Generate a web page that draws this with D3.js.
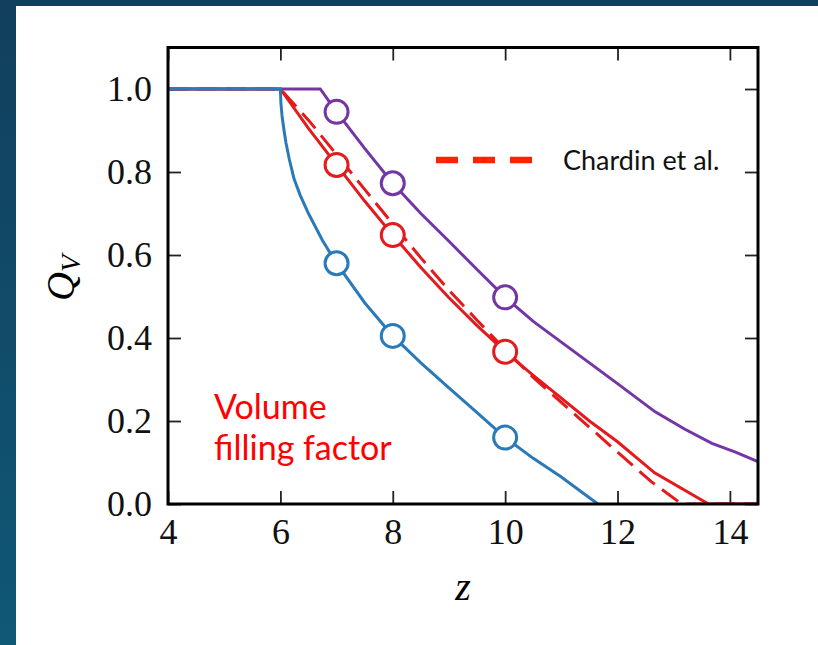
<!DOCTYPE html>
<html>
<head>
<meta charset="utf-8">
<script src="https://cdn.jsdelivr.net/npm/d3@7"></script>
<style>
  html, body { margin: 0; padding: 0; }
  body { width: 818px; height: 645px; overflow: hidden; }
</style>
</head>
<body>
<div id="container"></div>
<script>
// values
const xTicks = [4, 6, 8, 10, 12, 14];
const yTicks = [0, 0.2, 0.4, 0.6, 0.8, 1.0];

const purpleZ = [4, 6.71, 7, 7.5, 8, 8.5, 9, 9.5, 10, 10.5, 11, 11.5, 12, 12.67, 13.2, 13.68, 14.1, 14.5];
const purpleQ = [1, 1, 0.945, 0.857, 0.773, 0.7, 0.633, 0.565, 0.498, 0.44, 0.39, 0.34, 0.29, 0.222, 0.18, 0.146, 0.125, 0.102];

const redZ = [4, 6, 6.5, 7, 7.5, 8, 8.5, 9, 9.5, 10, 10.5, 11, 11.5, 12, 12.66, 13.62, 14.5];
const redQ = [1, 1, 0.905, 0.817, 0.73, 0.648, 0.57, 0.497, 0.43, 0.367, 0.31, 0.255, 0.2, 0.15, 0.075, 0, 0];

const chardinZ = [4, 6, 6.5, 7, 7.5, 8, 8.5, 9, 9.5, 10, 10.5, 11, 11.5, 12, 12.6, 13.14, 14.5];
const chardinQ = [1, 1, 0.925, 0.842, 0.758, 0.675, 0.593, 0.515, 0.443, 0.372, 0.305, 0.245, 0.185, 0.125, 0.054, 0, 0];

const blueZ = [4, 6, 6.01, 6.03, 6.06, 6.1, 6.16, 6.24, 6.35, 6.5, 6.75, 7, 7.5, 8, 8.5, 9, 9.5, 10, 10.5, 11, 11.3, 11.65];
const blueQ = [1, 1, 0.965, 0.935, 0.905, 0.87, 0.83, 0.785, 0.745, 0.70, 0.635, 0.58, 0.485, 0.405, 0.34, 0.28, 0.22, 0.16, 0.11, 0.065, 0.035, 0];

// open circle markers
const markerZ = [7, 8, 10];
const purpleMarks = [0.945, 0.773, 0.498];
const redMarks = [0.817, 0.648, 0.367];
const blueMarks = [0.58, 0.405, 0.16];

const width = 818;
const height = 645;

const plot = { left: 168, right: 758, top: 47.5, bottom: 504 };

const svg = d3.select('#container').append('svg')
    .attr('width', width)
    .attr('height', height);

// dark slide background
const defs = svg.append('defs');
const grad = defs.append('linearGradient')
    .attr('id', 'bg')
    .attr('x1', 0).attr('y1', 0).attr('x2', 0).attr('y2', 1);
grad.append('stop').attr('offset', '0%').attr('stop-color', '#113f5d');
grad.append('stop').attr('offset', '100%').attr('stop-color', '#0f5876');

svg.append('rect')
    .attr('width', width).attr('height', height)
    .attr('fill', 'url(#bg)');

svg.append('rect')
    .attr('x', 16).attr('y', 6)
    .attr('width', width - 16).attr('height', height - 6)
    .attr('fill', '#fff');

defs.append('clipPath').attr('id', 'clip')
    .append('rect')
    .attr('x', plot.left).attr('y', plot.top)
    .attr('width', plot.right - plot.left)
    .attr('height', plot.bottom - plot.top);

//Scales
const xScale = d3.scaleLinear().domain([4, 14.5]).range([plot.left, plot.right]);
const yScale = d3.scaleLinear().domain([0, 1.1]).range([plot.bottom, plot.top]);

const tickFont = '"Liberation Serif", "DejaVu Serif", serif';

//Axes, ticks pointing inward
const xAxis = svg.append('g')
    .attr('transform', 'translate(0,' + plot.bottom + ')')
    .call(d3.axisBottom(xScale).tickValues(xTicks).tickSizeInner(-13).tickSizeOuter(0).tickPadding(14).tickFormat(d3.format('d')));

const xTop = svg.append('g')
    .attr('transform', 'translate(0,' + plot.top + ')')
    .call(d3.axisTop(xScale).tickValues(xTicks).tickSizeInner(-13).tickSizeOuter(0).tickFormat(''));

const yAxis = svg.append('g')
    .attr('transform', 'translate(' + plot.left + ',0)')
    .call(d3.axisLeft(yScale).tickValues(yTicks).tickSizeInner(-13).tickSizeOuter(0).tickPadding(16).tickFormat(d3.format('.1f')));

const yRight = svg.append('g')
    .attr('transform', 'translate(' + plot.right + ',0)')
    .call(d3.axisRight(yScale).tickValues(yTicks).tickSizeInner(-13).tickSizeOuter(0).tickFormat(''));

[xAxis, xTop, yAxis, yRight].forEach(g => {
    g.select('.domain').remove();
    g.selectAll('.tick line').attr('stroke', '#222').attr('stroke-width', 1.8);
    g.selectAll('.tick text')
        .attr('fill', '#111')
        .style('font-family', tickFont)
        .style('font-size', '36px');
});

//Lines
const line = d3.line()
    .x(d => xScale(d[0]))
    .y(d => yScale(d[1]));

const lines = svg.append('g').attr('clip-path', 'url(#clip)');

const series = [
    { z: purpleZ, q: purpleQ, color: '#7436a4', dash: null },
    { z: chardinZ, q: chardinQ, color: '#e41a1c', dash: '20,9' },
    { z: redZ, q: redQ, color: '#e41a1c', dash: null },
    { z: blueZ, q: blueQ, color: '#2a7ab8', dash: null }
];

series.forEach(s => {
    lines.append('path')
        .datum(d3.zip(s.z, s.q))
        .attr('fill', 'none')
        .attr('stroke', s.color)
        .attr('stroke-width', 3)
        .attr('stroke-dasharray', s.dash)
        .attr('d', line);
});

//Markers
const marks = [
    { q: purpleMarks, color: '#7436a4' },
    { q: redMarks, color: '#e41a1c' },
    { q: blueMarks, color: '#2a7ab8' }
];

marks.forEach(m => {
    svg.append('g').selectAll('circle')
        .data(d3.zip(markerZ, m.q))
        .enter()
        .append('circle')
        .attr('cx', d => xScale(d[0]))
        .attr('cy', d => yScale(d[1]))
        .attr('r', 11.5)
        .attr('fill', '#fff')
        .attr('stroke', m.color)
        .attr('stroke-width', 3);
});

//Frame
svg.append('rect')
    .attr('x', plot.left).attr('y', plot.top)
    .attr('width', plot.right - plot.left)
    .attr('height', plot.bottom - plot.top)
    .attr('fill', 'none')
    .attr('stroke', '#000')
    .attr('stroke-width', 3);

//Axis labels
svg.append('text')
    .attr('x', 463)
    .attr('y', 600)
    .attr('text-anchor', 'middle')
    .style('font-family', tickFont)
    .style('font-style', 'italic')
    .style('font-size', '40px')
    .text('z');

const yLabel = svg.append('text')
    .attr('transform', 'translate(74,278) rotate(-90)')
    .attr('text-anchor', 'middle')
    .style('font-family', tickFont)
    .style('font-style', 'italic')
    .style('font-size', '40px');
yLabel.append('tspan').text('Q');
yLabel.append('tspan').attr('dy', 6).style('font-size', '28px').text('V');

//Legend for Chardin et al.
svg.append('line')
    .attr('x1', 436).attr('x2', 532)
    .attr('y1', 160).attr('y2', 160)
    .attr('stroke', '#ff2200')
    .attr('stroke-width', 6.5)
    .attr('stroke-dasharray', '22,15');

svg.append('text')
    .attr('x', 563)
    .attr('y', 170)
    .style('font-family', 'Lato, "Open Sans", sans-serif')
    .style('font-size', '27px')
    .attr('fill', '#111')
    .text('Chardin et al.');

//Annotation
const note = svg.append('text')
    .style('font-family', 'Lato, "Open Sans", sans-serif')
    .style('font-size', '34px')
    .attr('fill', '#ff0000');
note.append('tspan').attr('x', 214).attr('y', 419).text('Volume');
note.append('tspan').attr('x', 214).attr('y', 460).text('filling factor');
</script>
</body>
</html>
